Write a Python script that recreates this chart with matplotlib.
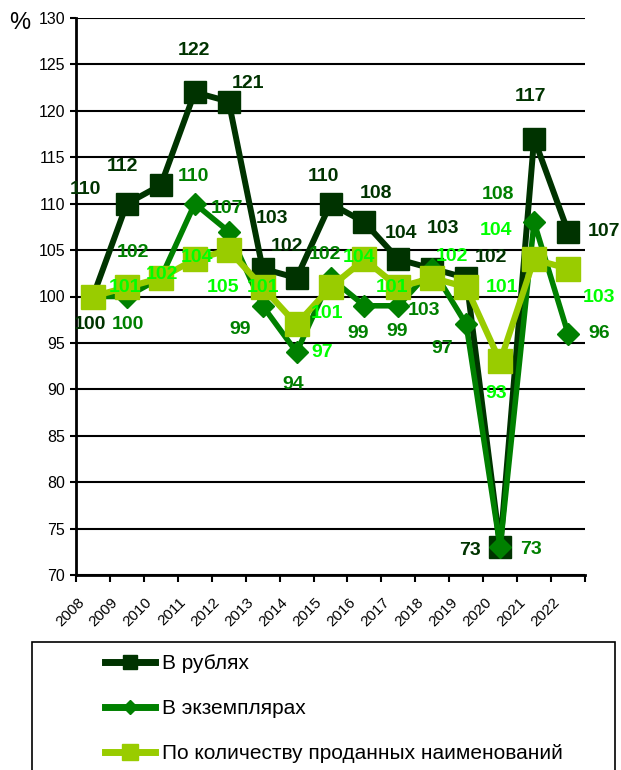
import matplotlib
matplotlib.use("Agg")
import matplotlib.pyplot as plt
from matplotlib.lines import Line2D
from matplotlib.patches import Rectangle
from matplotlib.transforms import ScaledTranslation

plt.rcParams['font.family'] = ['Liberation Sans', 'DejaVu Sans']

years = ['2008', '2009', '2010', '2011', '2012', '2013', '2014', '2015',
         '2016', '2017', '2018', '2019', '2020', '2021', '2022']
rubles = [100, 110, 112, 122, 121, 103, 102, 110, 108, 104, 103, 102, 73, 117, 107]
copies = [100, 100, 102, 110, 107, 99, 94, 102, 99, 99, 103, 97, 73, 108, 96]
titles = [100, 101, 102, 104, 105, 101, 97, 101, 104, 101, 102, 101, 93, 104, 103]
series_names = ['В рублях', 'В экземплярах', 'По количеству проданных наименований']

# label offsets (pixels) - styling only
rub_off = [(-3, 28), (-41, -14), (-38, -19), (-1, -42), (19, -18), (9, -50), (-10, -31),
           (-7, -27), (12, -29), (3, -26), (11, -40), (25, -20), (-30, 3), (-4, -42), (36, 0)]
cop_off = [None, (1, 28), (-28, -25), (-1, -27), (-2, -23), (-23, 24), (-3, 32),
           (-6, -23), (-6, 28), (-1, 26), (-8, 42), (-24, 24), (31, 2), (-36, -28), (31, 0)]
tit_off = [None, (-2, 0), (1, -3), (2, -2), (-6, 37), (0, 0), (26, 28),
           (-3, 26), (-5, -2), (-6, 0), (20, -21), (36, 0), (-4, 32), (-38, -29), (31, 29)]

c_rub, c_cop, c_tit = '#003300', '#008000', '#99CC00'
l_rub, l_cop, l_tit = '#003300', '#008000', '#00FF00'

W, H = 621, 770
fig = plt.figure(figsize=(W / 100, H / 100), dpi=100)
ax = fig.add_axes([76 / W, 1 - 575 / H, (585 - 76) / W, (575 - 18) / H])

x = list(range(len(years)))
ax.plot(x, rubles, color=c_rub, lw=4.3, marker='s', ms=15.6, zorder=3)
ax.plot(x, copies, color=c_cop, lw=4.0, marker='D', ms=11.5, zorder=4)
ax.plot(x, titles, color=c_tit, lw=4.5, marker='s', ms=17, zorder=5)

def put_labels(vals, offs, col, z):
    for i, v in enumerate(vals):
        if offs[i] is None:
            continue
        ax.annotate(str(v), (i, v), xytext=(offs[i][0], -offs[i][1]),
                    textcoords='offset pixels', ha='center', va='center',
                    fontsize=14, fontweight='bold', color=col, zorder=z,
                    annotation_clip=False)

put_labels(titles, tit_off, l_tit, 6)
put_labels(copies, cop_off, l_cop, 7)
put_labels(rubles, rub_off, l_rub, 8)

ax.set_xlim(-0.5, len(years) - 0.5)
ax.set_ylim(70, 130)
ax.set_yticks(range(70, 131, 5))
ax.yaxis.grid(True, color='black', lw=1.5)
ax.set_axisbelow(True)
for s in ['top', 'right']:
    ax.spines[s].set_visible(False)
for s in ['left', 'bottom']:
    ax.spines[s].set_linewidth(2)
ax.tick_params(axis='y', length=4, width=1.5, pad=4, labelsize=11.5)

ax.set_xticks(x)
ax.set_xticklabels(years, rotation=45, ha='right', va='center', rotation_mode='anchor', fontsize=11)
ax.set_xticks([i - 0.5 for i in range(len(years) + 1)], minor=True)
ax.tick_params(axis='x', which='major', length=0, pad=18)
ax.tick_params(axis='x', which='minor', length=5, width=1.5)
for lab in ax.get_xticklabels():
    lab.set_transform(lab.get_transform() + ScaledTranslation(-11 / 100, 0, fig.dpi_scale_trans))

fig.text(20 / W, 1 - 23 / H, '%', fontsize=17, ha='center', va='center')

# legend frame
fig.add_artist(Rectangle((32 / W, -0.05), (615 - 32) / W, (1 - 642 / H) + 0.05,
                         transform=fig.transFigure, fill=False, edgecolor='black',
                         lw=1.2, clip_on=False))
handles = [Line2D([], [], color=c_rub, lw=5, marker='s', ms=9.5),
           Line2D([], [], color=c_cop, lw=5, marker='D', ms=7),
           Line2D([], [], color=c_tit, lw=5, marker='s', ms=11)]
fig.legend(handles, series_names, loc='upper left', bbox_to_anchor=(105 / W, 1 - 654 / H),
           frameon=False, fontsize=15, handlelength=2.4, handletextpad=0.34,
           labelspacing=1.25, borderaxespad=0, borderpad=0)

fig.savefig('out.png', dpi=100)
